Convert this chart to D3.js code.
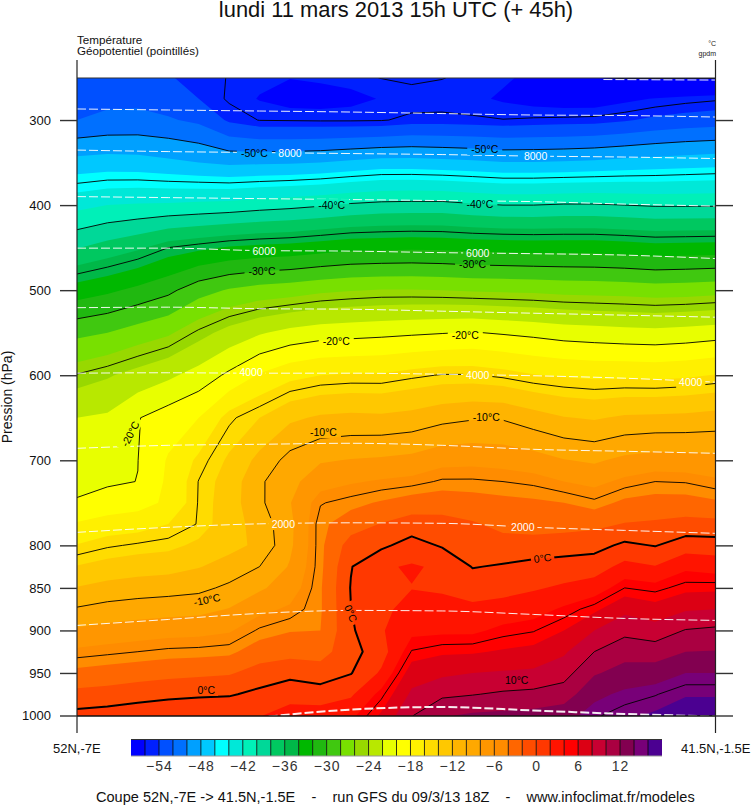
<!DOCTYPE html>
<html><head><meta charset="utf-8">
<script src="https://cdn.jsdelivr.net/npm/d3@7"></script>
<style>
html,body{margin:0;padding:0;background:#fff}
svg{display:block;font-family:"Liberation Sans",Arial,sans-serif}
text{white-space:pre}
</style></head><body><svg id="c" width="751" height="806"></svg>
<script>
// Pressure levels (hPa) of the section; one temperature row (°C) per level, 22 stations from 52N,-7E to 41.5N,-1.5E
const levels=[250,275,300,350,400,450,500,550,600,650,700,725,750,775,800,825,850,875,900,925,950,975,1000];
const t250=[-53.2,-53,-53,-53.95,-54.2,-55.1,-55.6,-55.95,-55.7,-55.4,-54.95,-54.7,-54.95,-55.3,-55.8,-56.3,-57,-59.95,-60.2,-60.2,-60.2,-60.2];
const t275=[-52.6,-52.4,-52.4,-52.9,-54,-55.2,-56.1,-56.7,-56.8,-56.5,-55.9,-55.6,-55.5,-55.7,-56.2,-56.7,-57,-57,-56.4,-55.9,-55.5,-55.2];
const t300=[-52,-51.6,-51.5,-51.8,-52.4,-54.3,-55.05,-55.1,-55.15,-55.15,-55.1,-54.7,-54.7,-54.8,-54.95,-54.8,-54.7,-54.6,-54.2,-53.6,-53.2,-53];
const t350=[-47.3,-47.1,-47.2,-47.6,-48,-48.4,-48.3,-48.2,-48,-47.6,-47.2,-47.2,-47.4,-47.6,-47.9,-47.9,-47.8,-47.6,-47.3,-47.1,-46.9,-46.7];
const t400=[-42.6,-42,-41.8,-41.7,-41.5,-41.3,-40.9,-40.6,-40.2,-39.7,-39.4,-39.3,-39.3,-39.7,-40,-40,-39.8,-39.8,-40,-40.2,-40.2,-40.2];
const t450=[-38.1,-37.2,-36.3,-35,-34.4,-33.8,-33.5,-33.3,-32.9,-32.5,-32.4,-32.3,-32.4,-32.6,-32.7,-32.8,-32.8,-32.8,-33,-33.3,-33.2,-33.1];
const t500=[-33.1,-32.4,-31.5,-30.5,-28.8,-27.8,-27.2,-26.9,-26.4,-26.1,-25.9,-25.9,-26,-26.2,-26.3,-26.4,-26.6,-26.7,-26.8,-27,-26.9,-26.7];
const t550=[-28.5,-28,-27.1,-26.3,-24.7,-23.3,-22.2,-21.4,-20.9,-20.7,-20.5,-20.3,-20.1,-19.9,-20.2,-20.5,-20.9,-21.1,-21.3,-21.4,-21.2,-20.9];
const t600=[-24.9,-24.2,-23.3,-22.4,-21.2,-19.6,-17.8,-16.6,-16,-15.8,-15.8,-15.3,-14.9,-14.9,-15.3,-15.9,-16.2,-16.4,-16.4,-16.5,-16.3,-15.9];
const t650=[-22,-21.7,-20.1,-19,-18,-15.3,-14,-12.4,-11.7,-11.5,-11.6,-11.3,-10.6,-10.2,-10.2,-11.1,-11.9,-12.2,-11.7,-11.6,-11.5,-11.2];
const t700=[-20.8,-20.7,-20.02,-17.8,-15.6,-13.7,-11.4,-9.3,-8.2,-7.9,-7.7,-7.4,-6.6,-6.5,-6.7,-7.1,-7.9,-8.3,-7.5,-7.1,-7.2,-7.4];
const t725=[-20.3,-20.2,-19.98,-17.6,-14.95,-13.2,-10.3,-8.6,-6.8,-6.2,-5.8,-5.5,-4.8,-4.8,-5,-5.3,-6,-6.5,-5.6,-5,-5.1,-5.7];
const t750=[-19.9,-19.4,-18.8,-17.6,-14.9,-13,-10.4,-8.1,-5.1,-4.5,-3.8,-3.1,-2.9,-3.2,-3.5,-3.7,-4,-4.7,-3.6,-3.3,-3.3,-3.7];
const t775=[-17.8,-17,-16.8,-16,-14.9,-12.9,-11.2,-8.5,-4.4,-3,-1.9,-1.1,-1.3,-1.8,-2.5,-2.7,-2.7,-2.5,-1.9,-1.7,-1.3,-1.4];
const t800=[-15.9,-15.2,-14.8,-14.5,-13.6,-12.6,-11.6,-8.4,-4.4,-1.1,-0.4,0.8,-0.2,-0.9,-1.3,-1.3,-1,-0.7,0.4,-0.1,1,0.9];
const t825=[-13.9,-13.3,-12.9,-12.7,-12.1,-11.2,-10,-7.8,-4.4,-0.1,1.75,2.2,1.7,-0.1,0.2,0.7,0.9,1.1,2.6,2.1,3.6,3.2];
const t850=[-11.9,-11.3,-11,-10.8,-10.5,-9.6,-8.3,-7,-4.2,0.1,1.7,1.95,1.75,1.2,1.4,1.8,2.3,2.9,5,4.6,5.5,5.6];
const t875=[-9.8,-9.3,-9,-8.8,-8.6,-7.9,-6.5,-5.7,-4.2,-0.03,1.6,2.6,2.65,2.4,2.7,3.2,4.3,5.6,7.5,6.7,7.8,8];
const t900=[-7.7,-7.3,-7,-6.7,-6.6,-6.2,-4.8,-4.1,-4,-0.3,1.8,3.5,3.6,3.6,4.5,4.9,6,8,9.4,8.9,10.1,10.4];
const t925=[-5.6,-5.3,-5,-4.7,-4.6,-4.4,-3,-2.7,-2.8,-0.7,1.1,5.1,5.7,5.8,6.2,6.5,7.7,10,11.3,11,12,12.1];
const t950=[-3.5,-3.2,-2.9,-2.6,-2.4,-2.2,-1.2,-0.6,-1,-0.1,2.3,7,7.6,8,8.2,8.4,9.2,11.8,12.7,13,14,14];
const t975=[-1.4,-1.2,-0.8,-0.5,-0.3,-0.2,0.5,1.3,0.9,1.7,4.6,8.4,9.6,9.9,10.3,10.5,11,13.5,14.4,14.9,15.8,15.8];
const t1000=[0.6,0.9,1.2,1.5,1.7,1.8,1.9,2.8,3,3.5,6.3,9.9,11.8,12.3,12.5,12.7,13.2,14.8,15.6,16.3,17.3,17.4];

// Filled bands: 2 °C wide
const bandThresholds=d3.range(-56,17,2);
const bandColors=["#0000ff","#0020ff","#0050ff","#0070ff","#00a0ff","#00c8ff","#00ffff","#00e8d8","#00f0b8","#00d898","#00c860","#00b848","#00b800","#20b810","#40c810","#78e000","#98d800","#b8e800","#e8ff00","#ffff00","#fff000","#ffdc00","#ffc800","#ffb400","#ffa800","#ff9600","#ff8c00","#ff6600","#ff4c00","#ff3800","#ff1400","#ff0000","#dc0014","#c80032","#aa0041","#820050","#780078","#4b0091"];
const lineLevels=d3.range(-60,16,5);

// Geopotential isolines (gpm): pressure at stations
const geoStations=[0,3,6,9,12,15,18,21];
const geo9000=[287,288.2,289.4,290.6,292.4,294.1,294.7,296.5];
const geo8000=[335.3,337.1,338.2,339.4,340.6,342.4,343.5,345.3];
const geo7000=[390,391.2,392.4,393.5,394.7,395.9,398.8,401.2];
const geo6000=[450.6,450.6,453.5,454.1,455.9,457.1,458.8,462.9];
const geo5000=[520.6,520,521.8,522.4,524.7,527.1,529.4,531.8];
const geo4000=[597.6,597.1,597.6,597.6,598.8,600.6,603.5,608.2];
const geo3000=[685.9,682.4,681.2,680,682.4,687.1,689.4,691.8];
const geo2000=[784.7,778.8,774.7,773.5,774.1,778.8,782.4,785.9];
const geo1000=[894.1,887.1,880,876.5,877.1,881.2,885.9,888.2];
const geo0Stations=[6.3,9,12,15,18,21];
const geo0=[1001.2,993,990,994.1,998.2,1001];
const geo10000Stations=[17.3,21];
const geo10000=[252.4,253];

// Contour labels: text, station, pressure, rotation
const tempLabelText=["-50°C","-50°C","-40°C","-40°C","-30°C","-30°C","-20°C","-20°C","-20°C","-10°C","-10°C","-10°C","0°C","0°C","0°C","10°C"];
const tempLabelCol=[5.83,13.4,8.37,13.24,6.08,13.0,8.52,12.76,1.75,8.1,13.45,4.27,4.25,15.3,9.0,14.45];
const tempLabelP=[339,334,400,399,478,470,560,553,669,667,649,864,970,815,880,959];
const tempLabelRot=[0,0,0,0,0,0,0,0,-62,0,0,-12,0,-8,68,0];
const geoLabelText=["8000","8000","6000","6000","4000","4000","4000","2000","2000"];
const geoLabelCol=[7,15.07,6.15,13.17,5.72,13.17,20.17,6.78,14.65];
const geoLabelP=[339,343,454,456,597,600,608,775,779];

const pressureTicks=[300,400,500,600,700,800,850,900,950,1000];
const barTicks=[-54,-48,-42,-36,-30,-24,-18,-12,-6,0,6,12];

const svg=d3.select("#c");
const W={l:77,r:716,t:78,b:716};
const x=d3.scaleLinear().domain([0,21]).range([W.l,W.r]);
const y=d3.scaleLinear().domain([250,1000]).range([77.5,715.5]);
const rowP=d3.scaleLinear().domain(levels.map((d,i)=>i)).range(levels);

const rows=[t250,t275,t300,t350,t400,t450,t500,t550,t600,t650,t700,t725,t750,t775,t800,t825,t850,t875,t900,t925,t950,t975,t1000];
const nc=rows[0].length,nr=rows.length;
const vals=[];
for(let j=-1;j<=nr;j++)for(let i=-1;i<=nc;i++){
  vals.push(rows[Math.max(0,Math.min(nr-1,j))][Math.max(0,Math.min(nc-1,i))]);
}
const contours=d3.contours().size([nc+2,nr+2]);
const path=d3.geoPath(d3.geoTransform({point(px,py){
  const c=px-1.5,r=py-1.5;
  const p=r<0?250+r*25:r>nr-1?1000+(r-nr+1)*25:rowP(r);
  this.stream.point(x(c),y(p));
}}));

const defs=svg.append("defs");
defs.append("clipPath").attr("id","plot").append("rect")
  .attr("x",W.l).attr("y",W.t).attr("width",W.r-W.l).attr("height",W.b-W.t);
const mask=defs.append("mask").attr("id","gaps").attr("maskUnits","userSpaceOnUse")
  .attr("x",0).attr("y",0).attr("width",751).attr("height",806);
mask.append("rect").attr("width",751).attr("height",806).attr("fill","#fff");

const plot=svg.append("g").attr("clip-path","url(#plot)");
plot.append("rect").attr("x",W.l).attr("y",W.t).attr("width",W.r-W.l).attr("height",W.b-W.t).attr("fill",bandColors[0]);
bandThresholds.forEach((t,k)=>{
  plot.append("path").attr("d",path(contours.contour(vals,t))).attr("fill",bandColors[k+1]);
});
const lines=plot.append("g").attr("mask","url(#gaps)");
lineLevels.forEach(t=>{
  lines.append("path").attr("d",path(contours.contour(vals,t))).attr("fill","none")
    .attr("stroke","#000").attr("stroke-width",t===0?2:0.9).attr("stroke-linejoin","round");
});
const gl=d3.line().x(d=>x(d[0])).y(d=>y(d[1])).curve(d3.curveMonotoneX);
function geoLine(st,v,w){
  lines.append("path").attr("d",gl(st.map((s,i)=>[s,v[i]]))).attr("fill","none")
    .attr("stroke","#fff").attr("stroke-width",w).attr("stroke-dasharray","9 3").attr("opacity",0.92);
}
[geo9000,geo8000,geo7000,geo6000,geo5000,geo4000,geo3000,geo2000,geo1000].forEach(v=>geoLine(geoStations,v,1));
geoLine(geo0Stations,geo0,2);
geoLine(geo10000Stations,geo10000,1);

function addLabel(t,c,p,rot,col){
  const px=x(c),py=y(p),w=t.length*5.8+6;
  mask.append("rect").attr("x",px-w/2).attr("y",py-6).attr("width",w).attr("height",12).attr("fill","#000")
    .attr("transform",`rotate(${rot} ${px} ${py})`);
  plot.append("text").attr("transform",`translate(${px},${py}) rotate(${rot})`)
    .attr("text-anchor","middle").attr("dy","0.36em").attr("font-size",10.5).attr("fill",col).text(t);
}
tempLabelText.forEach((t,i)=>addLabel(t,tempLabelCol[i],tempLabelP[i],tempLabelRot[i],"#000"));
geoLabelText.forEach((t,i)=>addLabel(t,geoLabelCol[i],geoLabelP[i],0,"#fff"));

// Frame & axes
const frame=svg.append("g").attr("fill","none").attr("stroke","#222");
frame.append("line").attr("x1",W.l).attr("x2",W.r).attr("y1",W.t).attr("y2",W.t).attr("stroke-width",1.2).attr("stroke","#333");
frame.append("line").attr("x1",W.l).attr("x2",W.r).attr("y1",W.b).attr("y2",W.b).attr("stroke-width",1.4).attr("stroke","#111");
frame.append("line").attr("x1",W.l).attr("x2",W.l).attr("y1",60).attr("y2",733).attr("stroke-width",1.2);
frame.append("line").attr("x1",W.r-.5).attr("x2",W.r-.5).attr("y1",60).attr("y2",733).attr("stroke-width",1.2);

const axL=svg.append("g").attr("transform",`translate(${W.l},0)`)
  .call(d3.axisLeft(y).tickValues(pressureTicks).tickSize(17).tickPadding(9).tickFormat(d3.format("d")));
const axR=svg.append("g").attr("transform",`translate(${W.r},0)`)
  .call(d3.axisRight(y).tickValues(pressureTicks).tickSize(17).tickFormat(""));
[axL,axR].forEach(a=>{a.select(".domain").remove();a.selectAll("line").attr("stroke","#333").attr("stroke-width",1.4);});
axL.selectAll("text").attr("font-size",13).attr("font-family","Liberation Sans").attr("fill","#111");

svg.append("text").attr("transform","translate(12,397) rotate(-90)").attr("text-anchor","middle")
  .attr("font-size",14).attr("fill","#111").text("Pression (hPa)");

svg.append("text").attr("x",396).attr("y",17).attr("text-anchor","middle").attr("font-size",21.9).attr("fill","#111")
  .text("lundi 11 mars 2013 15h UTC (+ 45h)");
svg.append("text").attr("x",77).attr("y",44).attr("font-size",11.65).attr("fill","#111").text("Température");
svg.append("text").attr("x",77).attr("y",55).attr("font-size",11.6).attr("fill","#111").text("Géopotentiel (pointillés)");
svg.append("text").attr("x",716).attr("y",46).attr("text-anchor","end").attr("font-size",7).attr("fill","#222").text("°C");
svg.append("text").attr("x",716).attr("y",56).attr("text-anchor","end").attr("font-size",7).attr("fill","#222").text("gpdm");

svg.append("text").attr("x",53).attr("y",753).attr("font-size",13).attr("fill","#111").text("52N,-7E");
svg.append("text").attr("x",681).attr("y",753).attr("font-size",13).attr("fill","#111").text("41.5N,-1.5E");

// Colour bar
const bar=d3.scaleLinear().domain([-58,18]).range([131,662]);
const bg=svg.append("g");
bandColors.forEach((c,k)=>{
  const lo=-58+2*k;
  bg.append("rect").attr("x",bar(lo)).attr("y",739.5).attr("width",bar(lo+2)-bar(lo)).attr("height",16.5)
    .attr("fill",c);
  if(k>0)bg.append("line").attr("x1",bar(lo)).attr("x2",bar(lo)).attr("y1",739.5).attr("y2",756).attr("stroke","#000").attr("stroke-opacity",0.8);
});
bg.append("line").attr("x1",131).attr("x2",662).attr("y1",739.5).attr("y2",739.5).attr("stroke","#333");
bg.append("line").attr("x1",131).attr("x2",662).attr("y1",756).attr("y2",756).attr("stroke","#999");
const ab=svg.append("g").attr("transform","translate(0,757)")
  .call(d3.axisBottom(bar).tickValues(barTicks).tickSize(0).tickPadding(4).tickFormat(d=>d<0?"\u2212"+(-d):String(d)));
ab.select(".domain").remove();
ab.selectAll("text").attr("font-size",14).attr("font-family","Liberation Sans").attr("fill","#333").attr("letter-spacing",1);

svg.append("text").attr("x",96).attr("y",802).attr("font-size",14.55).attr("fill","#111")
  .text("Coupe 52N,-7E -> 41.5N,-1.5E    -    run GFS du 09/3/13 18Z    -    www.infoclimat.fr/modeles");
</script></body></html>
